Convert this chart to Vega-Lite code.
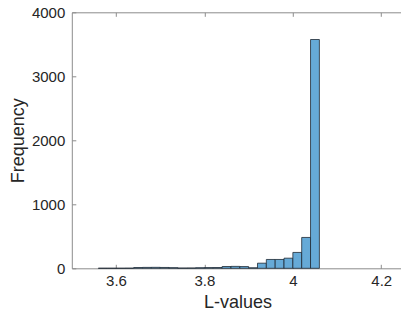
{
  "$schema": "https://vega.github.io/schema/vega-lite/v6.json",
  "width": 331.6,
  "height": 256,
  "autosize": {"type": "none"},
  "padding": {"left": 71.8, "top": 12.3, "right": 0, "bottom": 51.7},
  "config": {
    "view": {"stroke": null},
    "font": "Liberation Sans",
    "axis": {
      "grid": false,
      "domainColor": "#8c8c8c",
      "domainWidth": 1,
      "tickColor": "#8c8c8c",
      "tickWidth": 1,
      "labelColor": "#262626",
      "titleColor": "#262626",
      "labelFont": "Liberation Sans",
      "titleFont": "Liberation Sans",
      "labelFontSize": 15,
      "titleFontSize": 18,
      "titleFontWeight": "normal"
    }
  },
  "data": {
    "values": [
      {"start": 3.56, "end": 3.58, "count": 1},
      {"start": 3.58, "end": 3.60, "count": 1},
      {"start": 3.60, "end": 3.62, "count": 1},
      {"start": 3.62, "end": 3.64, "count": 2},
      {"start": 3.64, "end": 3.66, "count": 12},
      {"start": 3.66, "end": 3.68, "count": 14},
      {"start": 3.68, "end": 3.70, "count": 15},
      {"start": 3.70, "end": 3.72, "count": 13},
      {"start": 3.72, "end": 3.74, "count": 10},
      {"start": 3.74, "end": 3.76, "count": 4},
      {"start": 3.76, "end": 3.78, "count": 5},
      {"start": 3.78, "end": 3.80, "count": 9},
      {"start": 3.80, "end": 3.82, "count": 11},
      {"start": 3.82, "end": 3.84, "count": 12},
      {"start": 3.84, "end": 3.86, "count": 28},
      {"start": 3.86, "end": 3.88, "count": 30},
      {"start": 3.88, "end": 3.90, "count": 27},
      {"start": 3.90, "end": 3.92, "count": 8},
      {"start": 3.92, "end": 3.94, "count": 80},
      {"start": 3.94, "end": 3.96, "count": 138},
      {"start": 3.96, "end": 3.98, "count": 138},
      {"start": 3.98, "end": 4.00, "count": 158},
      {"start": 4.00, "end": 4.02, "count": 248},
      {"start": 4.02, "end": 4.04, "count": 482},
      {"start": 4.04, "end": 4.06, "count": 3575}
    ]
  },
  "layer": [
    {
      "mark": {"type": "bar", "fill": "#66aad7", "stroke": "#1f2a33", "strokeWidth": 0.8, "opacity": 1},
      "encoding": {
        "x": {
          "field": "start", "type": "quantitative",
          "scale": {"domain": [3.5, 4.25], "nice": false, "zero": false},
          "axis": {"title": "L-values", "values": [3.6, 3.8, 4, 4.2], "format": "~g", "tickSize": -4, "labelPadding": 9.5, "titlePadding": 5}
        },
        "x2": {"field": "end"},
        "y": {
          "field": "count", "type": "quantitative",
          "scale": {"domain": [0, 4000], "nice": false},
          "axis": {"title": "Frequency", "values": [0, 1000, 2000, 3000, 4000], "format": "d", "tickSize": -4, "labelPadding": 11, "titlePadding": 4}
        },
        "y2": {"datum": 0}
      }
    },
    {
      "mark": {"type": "bar", "opacity": 0},
      "encoding": {
        "x": {
          "field": "start", "type": "quantitative",
          "scale": {"domain": [3.5, 4.25], "nice": false, "zero": false},
          "axis": {"orient": "top", "title": null, "labels": false, "values": [3.6, 3.8, 4, 4.2], "tickSize": -4}
        },
        "x2": {"field": "end"}
      }
    }
  ],
  "resolve": {"axis": {"x": "independent"}}
}
